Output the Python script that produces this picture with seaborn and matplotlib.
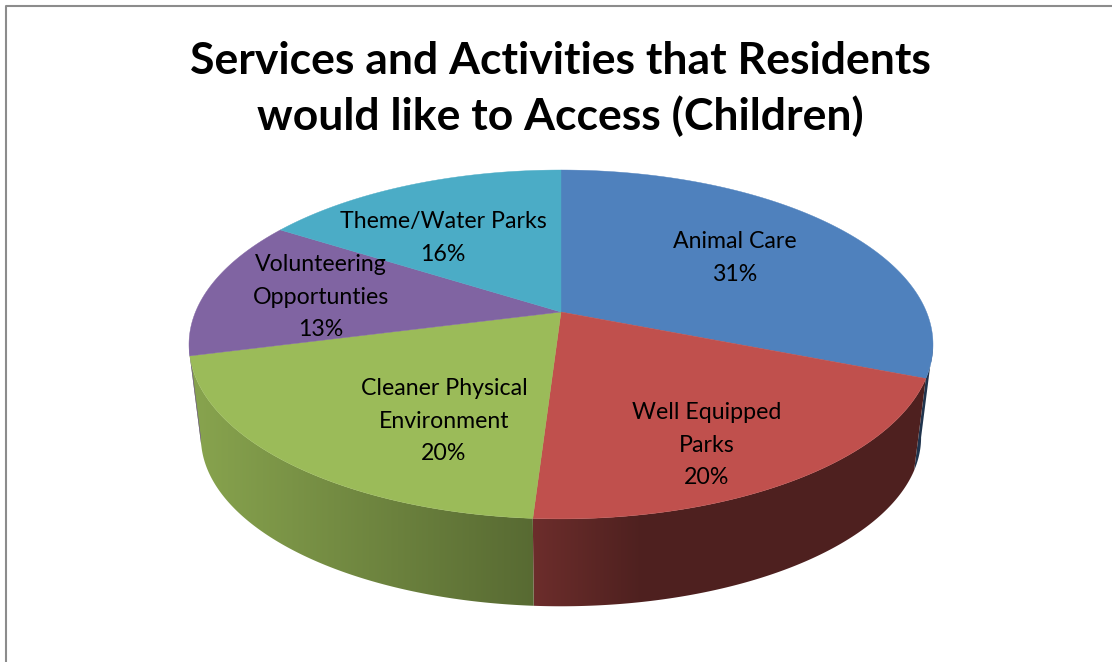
import numpy as np
import matplotlib
matplotlib.use("Agg")
import matplotlib.pyplot as plt
from matplotlib.patches import Polygon
import seaborn as sns

# Survey results, clockwise from twelve o'clock
categories = ["Animal Care", "Well Equipped\nParks", "Cleaner Physical\nEnvironment",
              "Volunteering\nOpportunties", "Theme/Water Parks"]
shares = [31, 20, 20, 13, 16]
slice_colors = ["#4F81BD", "#C0504D", "#9BBB59", "#8064A2", "#4BACC6"]
title_text = "Services and Activities that Residents\nwould like to Access (Children)"

# Label anchors, in figure pixels
label_xy = [(735, 258), (707, 445), (444, 421), (321, 297), (443, 238)]

# Perspective camera for the tilted disc
CX, CY = 561.0, 312.0
RX, RY = 365.5, 168.4
TILT = 0.186
VANISH_Y = 3250.0
BASE_SCALE = 0.968

sns.set_style("white")
plt.rcParams["font.family"] = ["Lato", "DejaVu Sans"]
palette = sns.color_palette(slice_colors)


def top_face(theta):
    """Project clockwise-from-top angles (radians) on to the upper face."""
    u, v = np.sin(theta), -np.cos(theta)
    w = 1.0 / (1.0 - TILT * v)
    return CX + RX * u * w, CY + RY * v * w


def bottom_face(theta):
    x, y = top_face(theta)
    return CX + BASE_SCALE * (x - CX), VANISH_Y - BASE_SCALE * (VANISH_Y - y)


def wall_shade(x):
    """Brightness of the cylinder wall across the page."""
    return np.interp(x, [200, 530, 640], [0.87, 0.57, 0.41])


fig = plt.figure(figsize=(11.12, 6.62), dpi=100)
ax = fig.add_axes([0, 0, 1, 1])

edges = np.cumsum([0] + shares) / sum(shares) * 2 * np.pi

# Only the part of the wall between the two silhouette tangents faces the viewer
wall_from = np.pi / 2 + np.arcsin(TILT)
wall_to = 2 * np.pi - wall_from

# Outer wall: one horizontal gradient per slice, clipped to its visible side band
columns = np.arange(150, 960)
for i, color in enumerate(palette):
    lo, hi = max(edges[i], wall_from), min(edges[i + 1], wall_to)
    if hi <= lo:
        continue
    t = np.linspace(lo, hi, 240)
    xa, ya = top_face(t)
    xb, yb = bottom_face(t[::-1])
    band = Polygon(np.c_[np.r_[xa, xb], np.r_[ya, yb]], closed=True,
                   facecolor="none", edgecolor="none", transform=ax.transData, zorder=i + 1)
    ax.add_patch(band)
    gradient = wall_shade(columns)[None, :, None] * np.array(color)[None, None, :]
    image = ax.imshow(gradient, extent=(columns[0], columns[-1], 640, 150), aspect="auto",
                      interpolation="bilinear", zorder=i + 1.5)
    image.set_clip_path(band)

# Upper face of each slice
for start, stop, color in zip(edges[:-1], edges[1:], palette):
    t = np.linspace(start, stop, 200)
    x, y = top_face(t)
    ax.add_patch(Polygon(np.c_[np.r_[CX, x], np.r_[CY, y]], closed=True,
                         facecolor=color, edgecolor=color, linewidth=0.3, zorder=10))

# Slice labels
for (lx, ly), name, share in zip(label_xy, categories, shares):
    ax.text(lx, ly, f"{name}\n{share}%", ha="center", va="center",
            fontsize=16.7, color="black", linespacing=1.67, zorder=11)

ax.text(560, 89, title_text, ha="center", va="center", fontsize=32,
        fontweight="bold", color="black", linespacing=1.4, zorder=11)

# Chart-area border along the top and left edges
ax.plot([5.5, 5.5, 1112], [662, 6, 6], color="#8c8c8c", linewidth=1.5, clip_on=False, zorder=12)

ax.set_xlim(0, 1112)
ax.set_ylim(662, 0)
ax.axis("off")

fig.savefig("out.png", dpi=100)
